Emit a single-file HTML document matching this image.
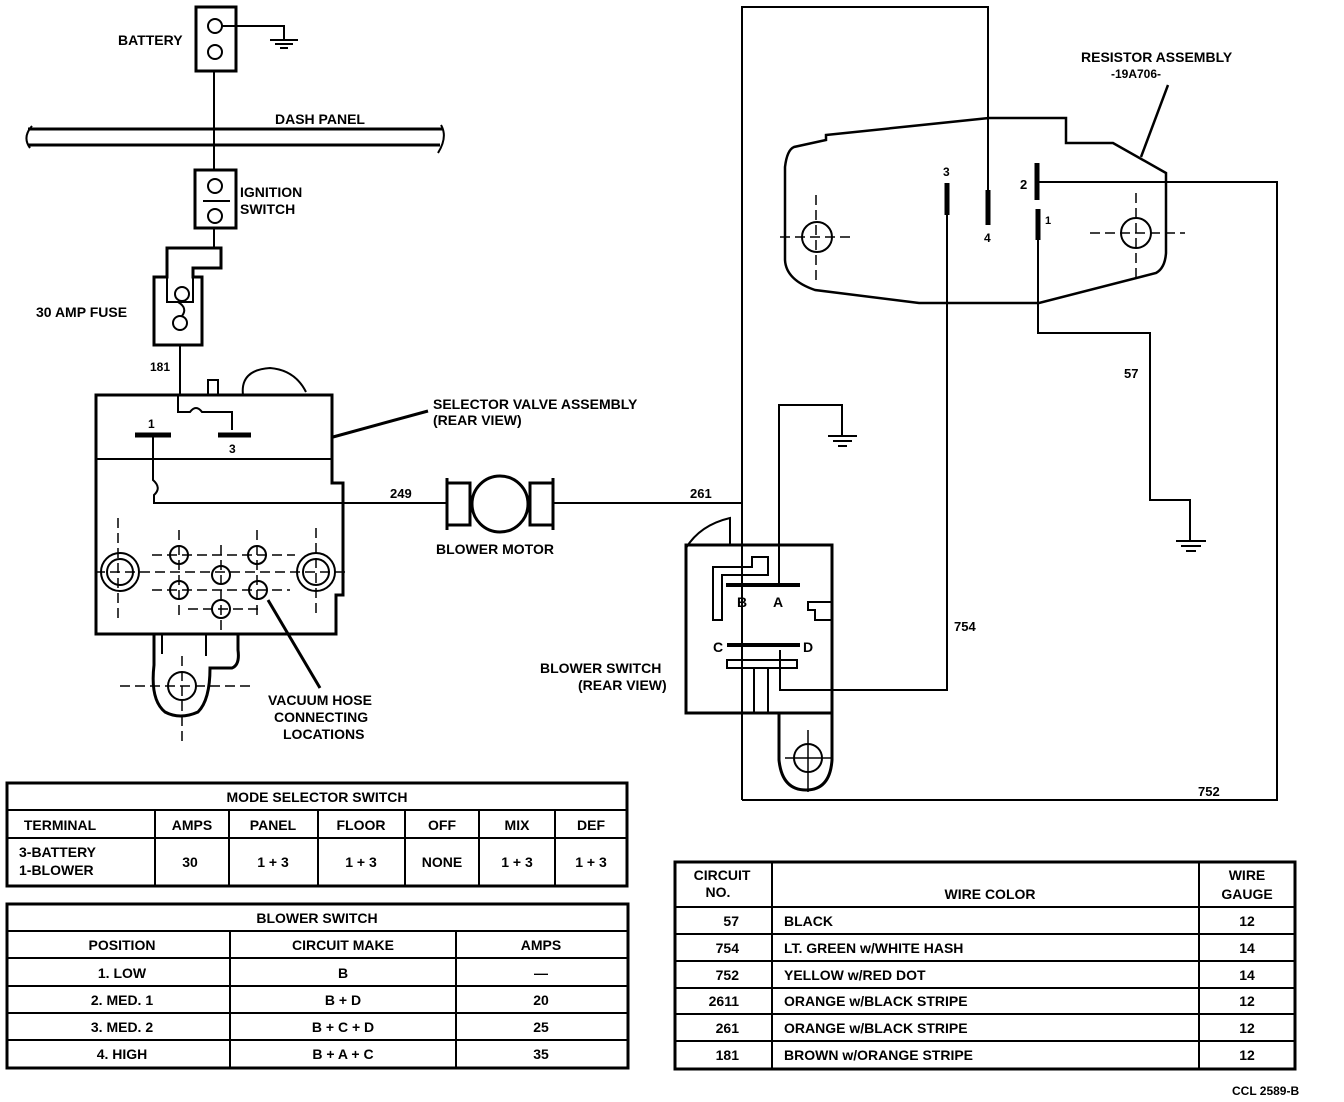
<!DOCTYPE html>
<html><head><meta charset="utf-8"><style>
html,body{margin:0;padding:0;background:#fff;}
svg{display:block;}
text{font-family:"Liberation Sans",sans-serif;font-size:14px;fill:#000;}
.b{font-weight:bold;}
</style></head><body>
<svg width="1344" height="1102" viewBox="0 0 1344 1102" xmlns="http://www.w3.org/2000/svg">
<g fill="none" stroke="#000" stroke-width="2">
<!-- battery -->
<rect x="196" y="7" width="40" height="64" stroke-width="3"/>
<circle cx="215" cy="26" r="7"/><circle cx="215" cy="52" r="7"/>
<polyline points="222,26 284,26 284,40"/>
<line x1="270" y1="40" x2="298" y2="40"/><line x1="275" y1="44" x2="293" y2="44"/><line x1="280" y1="48" x2="288" y2="48"/>
<line x1="214" y1="71" x2="214" y2="170"/>
<!-- dash panel -->
<line x1="28" y1="129" x2="443" y2="129" stroke-width="3"/>
<line x1="28" y1="145" x2="440" y2="145" stroke-width="3"/>
<path d="M32,126 Q22,137 30,148 M441,125 Q448,137 438,153"/>
<!-- ignition -->
<rect x="195" y="170" width="41" height="58" stroke-width="3"/>
<circle cx="215" cy="186" r="7"/><circle cx="215" cy="216" r="7"/>
<line x1="203" y1="201" x2="230" y2="201"/>
<line x1="214" y1="228" x2="214" y2="248"/>
<!-- fuse -->
<path d="M167,248 H221 V268 H193 V277 H202 V345 H154 V277 H167 Z" stroke-width="3"/>
<polyline points="167,277 167,302 193,302 193,277" stroke-width="2"/>
<circle cx="182" cy="294" r="7"/><circle cx="180" cy="323" r="7"/>
<path d="M178,302 Q188,308 182,316"/>
<line x1="180" y1="345" x2="180" y2="395"/>
<!-- selector valve -->
<path d="M96,395 H332 V483 H343 V595 H336 V634 H96 Z" stroke-width="3"/>
<line x1="96" y1="459" x2="332" y2="459"/>
<path d="M178,395 V412 H190 Q196,404 202,412 H232 V430"/>
<path d="M208,395 V380 H218 V395 M243,395 Q240,370 270,368 Q295,370 306,392"/>
<line x1="135" y1="435" x2="171" y2="435" stroke-width="5"/>
<line x1="218" y1="435" x2="251" y2="435" stroke-width="5"/>
<path d="M153,435 V480 Q162,488 154,495 V503 H447"/>
<!-- holes -->
<circle cx="120" cy="572" r="19"/><circle cx="120" cy="572" r="13"/>
<circle cx="316" cy="572" r="19"/><circle cx="316" cy="572" r="13"/>
<circle cx="179" cy="555" r="9"/><circle cx="257" cy="555" r="9"/>
<circle cx="221" cy="575" r="9"/><circle cx="179" cy="590" r="9"/><circle cx="258" cy="590" r="9"/><circle cx="221" cy="609" r="9"/>
<g stroke-width="1.5" stroke-dasharray="10,5">
<line x1="95" y1="572" x2="345" y2="572"/><line x1="118" y1="518" x2="118" y2="620"/><line x1="316" y1="528" x2="316" y2="615"/>
<line x1="152" y1="555" x2="295" y2="555"/><line x1="152" y1="590" x2="290" y2="590"/><line x1="188" y1="609" x2="258" y2="609"/>
<line x1="179" y1="530" x2="179" y2="615"/><line x1="221" y1="545" x2="221" y2="632"/><line x1="257" y1="530" x2="257" y2="615"/>
</g>
<path d="M154,634 V665 Q150,700 165,712 Q180,720 198,712 Q210,700 210,668 H232 Q240,665 238,650 V634" stroke-width="3"/>
<line x1="162" y1="634" x2="162" y2="654"/><line x1="206" y1="634" x2="206" y2="656"/>
<circle cx="182" cy="686" r="14"/>
<g stroke-width="1.5" stroke-dasharray="10,5"><line x1="120" y1="686" x2="250" y2="686"/><line x1="182" y1="656" x2="182" y2="745"/></g>
<!-- leaders -->
<line x1="333" y1="437" x2="428" y2="411" stroke-width="3"/>
<line x1="268" y1="600" x2="320" y2="688" stroke-width="3"/>
<line x1="1168" y1="85" x2="1141" y2="157" stroke-width="2.5"/>
<!-- blower motor -->
<path d="M447,478 V530 M447,483 H470 V525 H447 M553,478 V530 M553,483 H530 V525 H553" stroke-width="3"/>
<circle cx="500" cy="504" r="28" stroke-width="3"/>
<line x1="553" y1="503" x2="742" y2="503"/>
<!-- right wiring -->
<polyline points="742,800 742,7 988,7 988,200"/>
<polyline points="742,800 1277,800 1277,182 1037,182"/>
<polyline points="947,205 947,690 780,690 780,650"/>
<polyline points="1038,235 1038,333 1150,333 1150,500 1190,500 1190,540"/>
<line x1="1176" y1="541" x2="1206" y2="541"/><line x1="1181" y1="546" x2="1201" y2="546"/><line x1="1186" y1="551" x2="1196" y2="551"/>
<polyline points="779,585 779,405 842,405 842,435"/>
<line x1="828" y1="436" x2="857" y2="436"/><line x1="833" y1="441" x2="852" y2="441"/><line x1="838" y1="446" x2="847" y2="446"/>
<!-- resistor assembly -->
<path d="M826,135 L989,118 H1066 V143 H1113 L1166,173 V253 Q1165,268 1156,273 L1039,303 H919 L815,290 Q786,280 785,260 V167 Q787,150 794,147 L826,140 Z" stroke-width="2.5"/>
<line x1="947" y1="183" x2="947" y2="215" stroke-width="5"/>
<line x1="988" y1="190" x2="988" y2="225" stroke-width="5"/>
<line x1="1037" y1="163" x2="1037" y2="200" stroke-width="5"/>
<line x1="1038" y1="209" x2="1038" y2="240" stroke-width="5"/>
<circle cx="817" cy="237" r="15"/><circle cx="1136" cy="233" r="15"/>
<g stroke-width="1.5" stroke-dasharray="10,5"><line x1="780" y1="237" x2="855" y2="237"/><line x1="816" y1="195" x2="816" y2="280"/><line x1="1090" y1="233" x2="1185" y2="233"/><line x1="1136" y1="193" x2="1136" y2="280"/></g>
<!-- blower switch -->
<path d="M686,545 V713 H832 V545 Z" stroke-width="3"/>
<path d="M686,548 Q700,525 730,518 V545"/>
<path d="M713,620 V567 H752 V557 H768 V575 H722 V620 Z"/>
<line x1="726" y1="585" x2="800" y2="585" stroke-width="4"/>
<line x1="727" y1="645" x2="800" y2="645" stroke-width="4"/>
<rect x="727" y="660" width="70" height="8"/>
<path d="M832,602 H808 V610 H815 V620 H832"/>
<line x1="742" y1="668" x2="742" y2="713"/><line x1="754" y1="668" x2="754" y2="713"/><line x1="768" y1="668" x2="768" y2="713"/>
<path d="M779,713 V760 Q782,790 806,790 Q830,790 832,760 V713" stroke-width="3"/>
<circle cx="808" cy="758" r="14"/>
<g stroke-width="1.5"><line x1="785" y1="758" x2="832" y2="758"/><line x1="808" y1="730" x2="808" y2="792"/></g>
</g>
<!-- labels -->
<g class="b">
<text x="118" y="45">BATTERY</text>
<text x="275" y="124">DASH PANEL</text>
<text x="240" y="197">IGNITION</text><text x="240" y="214">SWITCH</text>
<text x="36" y="317">30 AMP FUSE</text>
<text x="150" y="371" style="font-size:12px">181</text>
<text x="148" y="428" style="font-size:12px">1</text><text x="229" y="453" style="font-size:12px">3</text>
<text x="433" y="409">SELECTOR VALVE ASSEMBLY</text><text x="433" y="425">(REAR VIEW)</text>
<text x="390" y="498" style="font-size:13px">249</text>
<text x="436" y="554">BLOWER MOTOR</text>
<text x="690" y="498" style="font-size:13px">261</text>
<text x="268" y="705">VACUUM HOSE</text><text x="274" y="722">CONNECTING</text><text x="283" y="739">LOCATIONS</text>
<text x="1081" y="62">RESISTOR ASSEMBLY</text><text x="1111" y="78" style="font-size:12px">-19A706-</text>
<text x="943" y="176" style="font-size:12px">3</text><text x="984" y="242" style="font-size:12px">4</text>
<text x="1020" y="189" style="font-size:13px">2</text><text x="1045" y="224" style="font-size:11px">1</text>
<text x="1124" y="378" style="font-size:13px">57</text>
<text x="954" y="631" style="font-size:13px">754</text>
<text x="1198" y="796" style="font-size:13px">752</text>
<text x="737" y="607">B</text><text x="773" y="607">A</text>
<text x="713" y="652">C</text><text x="803" y="652">D</text>
<text x="540" y="673">BLOWER SWITCH</text><text x="578" y="690">(REAR VIEW)</text>
<text x="1232" y="1095" style="font-size:12px">CCL 2589-B</text>
</g>
<!-- tables -->
<g fill="none" stroke="#000" stroke-width="2">
<rect x="7" y="783" width="620" height="103" stroke-width="3"/>
<line x1="7" y1="810" x2="627" y2="810"/><line x1="7" y1="838" x2="627" y2="838"/>
<line x1="155" y1="810" x2="155" y2="886"/><line x1="229" y1="810" x2="229" y2="886"/><line x1="318" y1="810" x2="318" y2="886"/>
<line x1="405" y1="810" x2="405" y2="886"/><line x1="479" y1="810" x2="479" y2="886"/><line x1="555" y1="810" x2="555" y2="886"/>
<rect x="7" y="904" width="621" height="164" stroke-width="3"/>
<line x1="7" y1="931" x2="628" y2="931"/><line x1="7" y1="958" x2="628" y2="958"/><line x1="7" y1="986" x2="628" y2="986"/>
<line x1="7" y1="1013" x2="628" y2="1013"/><line x1="7" y1="1040" x2="628" y2="1040"/>
<line x1="230" y1="931" x2="230" y2="1068"/><line x1="456" y1="931" x2="456" y2="1068"/>
<rect x="675" y="862" width="620" height="207" stroke-width="3"/>
<line x1="675" y1="907" x2="1295" y2="907"/><line x1="675" y1="934" x2="1295" y2="934"/><line x1="675" y1="961" x2="1295" y2="961"/>
<line x1="675" y1="988" x2="1295" y2="988"/><line x1="675" y1="1014" x2="1295" y2="1014"/><line x1="675" y1="1041" x2="1295" y2="1041"/>
<line x1="772" y1="862" x2="772" y2="1069"/><line x1="1199" y1="862" x2="1199" y2="1069"/>
</g>
<g class="b" text-anchor="middle">
<text x="317" y="802">MODE SELECTOR SWITCH</text>
<text x="60" y="830">TERMINAL</text><text x="192" y="830">AMPS</text><text x="273" y="830">PANEL</text><text x="361" y="830">FLOOR</text><text x="442" y="830">OFF</text><text x="517" y="830">MIX</text><text x="591" y="830">DEF</text>
<text x="19" y="857" style="text-anchor:start">3-BATTERY</text>
<text x="19" y="875" style="text-anchor:start">1-BLOWER</text>
<text x="190" y="867">30</text><text x="273" y="867">1 + 3</text><text x="361" y="867">1 + 3</text><text x="442" y="867">NONE</text><text x="517" y="867">1 + 3</text><text x="591" y="867">1 + 3</text>
<text x="317" y="923">BLOWER SWITCH</text>
<text x="122" y="950">POSITION</text><text x="343" y="950">CIRCUIT MAKE</text><text x="541" y="950">AMPS</text>
<text x="122" y="978">1. LOW</text><text x="343" y="978">B</text><text x="541" y="978">—</text>
<text x="122" y="1005">2. MED. 1</text><text x="343" y="1005">B + D</text><text x="541" y="1005">20</text>
<text x="122" y="1032">3. MED. 2</text><text x="343" y="1032">B + C + D</text><text x="541" y="1032">25</text>
<text x="122" y="1059">4. HIGH</text><text x="343" y="1059">B + A + C</text><text x="541" y="1059">35</text>
<text x="722" y="880">CIRCUIT</text><text x="718" y="897">NO.</text>
<text x="990" y="899">WIRE COLOR</text>
<text x="1247" y="880">WIRE</text><text x="1247" y="899">GAUGE</text>
<text x="1247" y="926">12</text><text x="1247" y="953">14</text><text x="1247" y="980">14</text><text x="1247" y="1006">12</text><text x="1247" y="1033">12</text><text x="1247" y="1060">12</text>
</g>
<g class="b" text-anchor="end">
<text x="739" y="926">57</text><text x="739" y="953">754</text><text x="739" y="980">752</text><text x="739" y="1006">2611</text><text x="739" y="1033">261</text><text x="739" y="1060">181</text>
</g>
<g class="b">
<text x="784" y="926">BLACK</text><text x="784" y="953">LT. GREEN w/WHITE HASH</text><text x="784" y="980">YELLOW w/RED DOT</text>
<text x="784" y="1006">ORANGE w/BLACK STRIPE</text><text x="784" y="1033">ORANGE w/BLACK STRIPE</text><text x="784" y="1060">BROWN w/ORANGE STRIPE</text>
</g>
</svg>
</body></html>
